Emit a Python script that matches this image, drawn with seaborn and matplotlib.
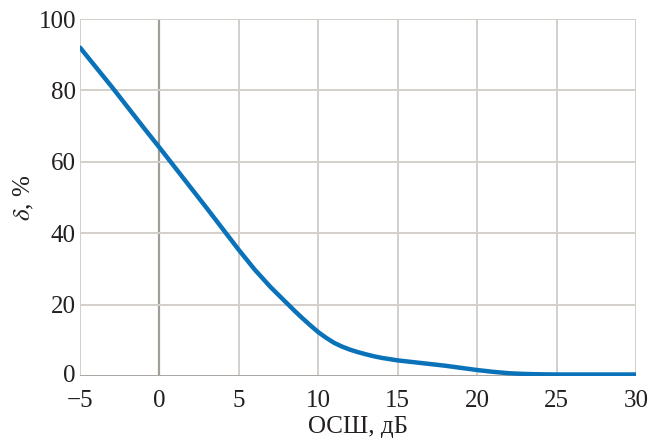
import matplotlib
matplotlib.use("Agg")
import matplotlib.pyplot as plt
import matplotlib.transforms as mtransforms
import seaborn as sns
import pandas as pd

snr_db = [-5, -4, -3, -2, -1, 0, 1, 2, 3, 4, 5, 6, 7, 8, 8.5, 9, 9.5, 10, 10.5, 11,
          11.5, 12, 12.5, 13, 13.5, 14, 15, 16, 17, 18, 19, 20, 21, 22, 23, 24, 25,
          26, 27, 28, 29, 30]
delta_pct = [92, 86.5, 81, 75.3, 69.6, 64, 58.3, 52.6, 46.9, 41.1, 35.3, 29.8, 24.9, 20.5,
             18.3, 16.2, 14.2, 12.3, 10.7, 9.3, 8.25, 7.4, 6.7, 6.1, 5.55, 5.1, 4.4,
             3.9, 3.4, 2.9, 2.3, 1.7, 1.2, 0.8, 0.6, 0.5, 0.45, 0.45, 0.45, 0.45,
             0.45, 0.45]
x_ticks = [-5, 0, 5, 10, 15, 20, 25, 30]
x_tick_labels = ["\u22125", "0", "5", "10", "15", "20", "25", "30"]
y_ticks = [0, 20, 40, 60, 80, 100]

df = pd.DataFrame({"snr": snr_db, "delta": delta_pct})

sns.set_style("white")
plt.rcParams["font.family"] = ["Liberation Serif", "DejaVu Serif"]
plt.rcParams["mathtext.fontset"] = "stix"

fig = plt.figure(figsize=(6.51, 4.43), dpi=100)
ax = fig.add_axes([0.123, 0.151, 0.854, 0.806])

grid_c = "#d3cfcb"
for xv in x_ticks:
    ax.axvline(xv, color="#a39d99" if xv == 0 else grid_c, lw=1.6 if xv == 0 else 1.4, zorder=1)
for yv in y_ticks:
    ax.axhline(yv, color="#aaa5a1" if yv == 0 else grid_c, lw=1.4, zorder=1)

sns.lineplot(data=df, x="snr", y="delta", ax=ax, color="#0a72b8", lw=3.2, zorder=3)

ax.set_xlim(-5, 30)
ax.set_ylim(0, 100)
ax.set_xticks(x_ticks)
ax.set_xticklabels(x_tick_labels)
ax.set_yticks(y_ticks)
for s in ax.spines.values():
    s.set_visible(False)
ax.tick_params(axis="x", length=0, labelsize=18, colors="#231f20", pad=10)
ax.tick_params(axis="y", length=0, labelsize=18, colors="#231f20", pad=3)
ax.set_xlabel("ОСШ, дБ", fontsize=18, color="#231f20", labelpad=3)
ax.set_ylabel(r"$\delta$, %", fontsize=18, color="#231f20", labelpad=2)

fig.canvas.draw()
shift = mtransforms.ScaledTranslation(0, 2 / 72, fig.dpi_scale_trans)
for lbl in ax.get_yticklabels():
    if lbl.get_text() == "0":
        lbl.set_transform(lbl.get_transform() + shift)

fig.savefig("out.png", dpi=100)
